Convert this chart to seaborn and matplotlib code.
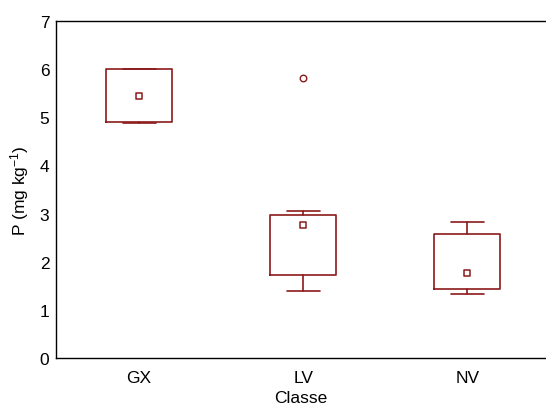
import matplotlib
matplotlib.use("Agg")
import matplotlib.pyplot as plt
import seaborn as sns
import pandas as pd

categories = ["GX", "LV", "NV"]
medians = [5.44, 2.76, 1.77]
q1 = [4.90, 1.72, 1.43]
q3 = [6.00, 2.97, 2.58]
whisk_lo = [4.89, 1.39, 1.33]
whisk_hi = [6.01, 3.06, 2.83]
outliers = [[], [5.82], []]

sns.set_style("white")
plt.rcParams['font.family'] = ['Liberation Sans', 'DejaVu Sans']
plt.rcParams['mathtext.fontset'] = 'custom'
plt.rcParams['mathtext.rm'] = 'Liberation Sans'
plt.rcParams['mathtext.it'] = 'Liberation Sans'
plt.rcParams['text.color'] = 'black'
plt.rcParams['axes.labelcolor'] = 'black'
plt.rcParams['xtick.color'] = 'black'
plt.rcParams['ytick.color'] = 'black'

color = "#8B1A1A"
fs = 12.5
fig, ax = plt.subplots(figsize=(5.46, 4.14), dpi=100)
fig.subplots_adjust(left=0.103, right=1.0, top=0.947, bottom=0.133)

stats = []
for i, c in enumerate(categories):
    stats.append(dict(label=c, med=medians[i], q1=q1[i], q3=q3[i],
                      whislo=whisk_lo[i], whishi=whisk_hi[i], fliers=[]))
ax.bxp(stats, positions=range(len(categories)), widths=0.4, showfliers=False,
       showcaps=True, capwidths=0.2,
       boxprops=dict(color=color, linewidth=1.2),
       whiskerprops=dict(color=color, linewidth=1.2),
       capprops=dict(color=color, linewidth=1.2),
       medianprops=dict(linewidth=0))

med_df = pd.DataFrame({"x": range(len(categories)), "y": medians})
sns.scatterplot(data=med_df, x="x", y="y", marker="s", s=24, facecolor="white",
                edgecolor=color, linewidth=1.1, ax=ax, zorder=5)
ox, oy = [], []
for i, lst in enumerate(outliers):
    for v in lst:
        ox.append(i); oy.append(v)
out_df = pd.DataFrame({"x": ox, "y": oy})
sns.scatterplot(data=out_df, x="x", y="y", marker="o", s=22, facecolor="white",
                edgecolor=color, linewidth=1.0, ax=ax, zorder=5)

ax.set_xlim(-0.505, 2.48)
ax.set_ylim(0, 7)
ax.set_xticks(range(len(categories)))
ax.set_xticklabels(categories)
ax.set_yticks(range(0, 8))
ax.tick_params(axis='both', direction='in', length=3, labelsize=fs, width=0.8,
               color='#555555', labelcolor='black')
ax.tick_params(axis='x', pad=9)
ax.tick_params(axis='y', pad=5)
ax.set_xlabel("Classe", fontsize=fs, labelpad=3, color='black')
ax.set_ylabel("P (mg kg$^{-1}$)", fontsize=fs, labelpad=6, color='black')
for s in ["left", "bottom", "top"]:
    ax.spines[s].set_visible(True)
    ax.spines[s].set_color("black")
    ax.spines[s].set_linewidth(1.0)
ax.spines["right"].set_visible(False)

fig.savefig("out.png", dpi=100)
